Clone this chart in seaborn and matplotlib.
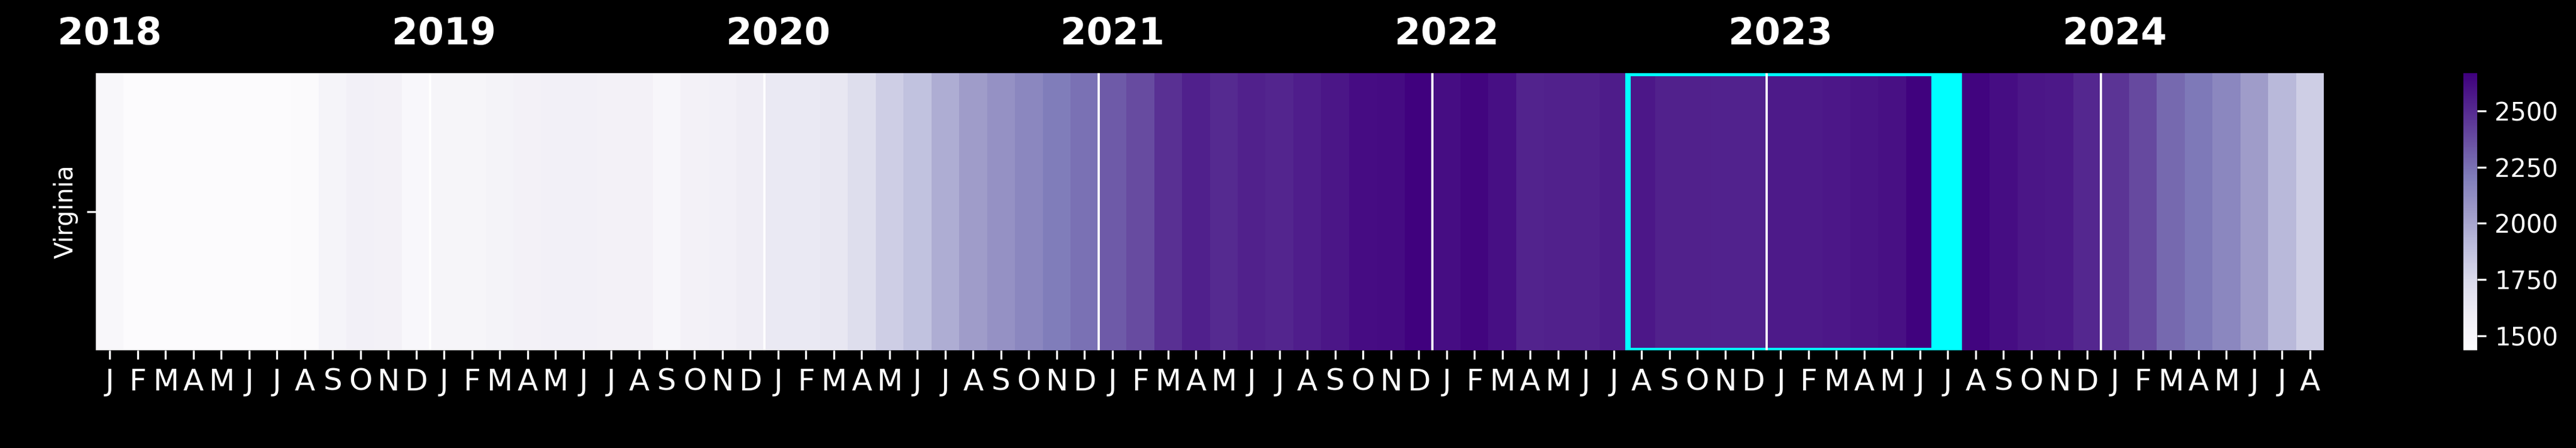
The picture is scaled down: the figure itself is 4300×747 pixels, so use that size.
import numpy as np
import pandas as pd
import seaborn as sns
import matplotlib.pyplot as plt
from matplotlib.patches import Rectangle

# monthly values (Purples)
state = 'Virginia'
years = [2018, 2019, 2020, 2021, 2022, 2023, 2024]
month_letters = ['J', 'F', 'M', 'A', 'M', 'J', 'J', 'A', 'S', 'O', 'N', 'D']

v2018 = [1486, 1440, 1437, 1438, 1440, 1442, 1445, 1447, 1520, 1555, 1552, 1484]
v2019 = [1508, 1508, 1532, 1544, 1555, 1555, 1544, 1544, 1496, 1544, 1555, 1591]
v2020 = [1628, 1628, 1643, 1715, 1811, 1873, 1970, 2043, 2099, 2150, 2206, 2248]
v2021 = [2330, 2382, 2477, 2541, 2503, 2538, 2522, 2550, 2581, 2616, 2621, 2660]
v2022 = [2613, 2645, 2609, 2526, 2538, 2538, 2557, 2573, 2534, 2536, 2532, 2530]
v2023 = [2566, 2566, 2573, 2589, 2605, 2658, 2668, 2652, 2613, 2577, 2570, 2514]
v2024 = [2463, 2386, 2274, 2220, 2150, 2043, 1914, 1811]

# highlighted period (box) and highlighted month (filled cell)
box_start, box_end = '2022-08', '2023-06'
mark_month = '2023-07'

values = v2018 + v2019 + v2020 + v2021 + v2022 + v2023 + v2024
months = pd.period_range('2018-01', periods=len(values), freq='M')
df = pd.DataFrame([values], index=[state], columns=months.astype(str))

plt.style.use('dark_background')
plt.rcParams['font.family'] = ['DejaVu Sans']

fig = plt.figure(figsize=(4300 / 300, 747 / 300), dpi=300, facecolor='black')
ax = fig.add_axes([160 / 4300, 1 - 583.6 / 747, 3719 / 4300, 461.6 / 747])
cax = fig.add_axes([4112 / 4300, 1 - 583.6 / 747, 23 / 4300, 461.6 / 747])

sns.heatmap(df, cmap='Purples', ax=ax, cbar_ax=cax,
            xticklabels=[month_letters[m.month - 1] for m in months],
            yticklabels=[state])

ax.tick_params(axis='x', colors='white', labelsize=12, rotation=0)
ax.tick_params(axis='y', colors='white', labelsize=10)
plt.setp(ax.get_yticklabels(), rotation=90, va='center')
ax.set_xlabel('')
ax.set_ylabel('')

cols = list(df.columns)
i0 = cols.index(box_start)
i1 = cols.index(box_end)
im = cols.index(mark_month)
ax.add_patch(Rectangle((i0, 0), i1 - i0 + 1, 1, fill=False,
                       edgecolor='cyan', lw=2.2, zorder=3))
ax.add_patch(Rectangle((im, 0), 1, 1, facecolor='cyan',
                       edgecolor='none', zorder=3))

# year separators and year labels
for k, yr in enumerate(years):
    x = cols.index(f'{yr}-01')
    if k > 0:
        ax.axvline(x, color='white', lw=0.9, zorder=4)
    ax.text(x + 0.5, -0.14, str(yr), color='white', fontsize=15,
            fontweight='bold', ha='center', va='center')

cax.set_yticks([1500, 1750, 2000, 2250, 2500])
cax.tick_params(colors='white', labelsize=10)

fig.savefig('out.png', dpi=300, facecolor='black')
